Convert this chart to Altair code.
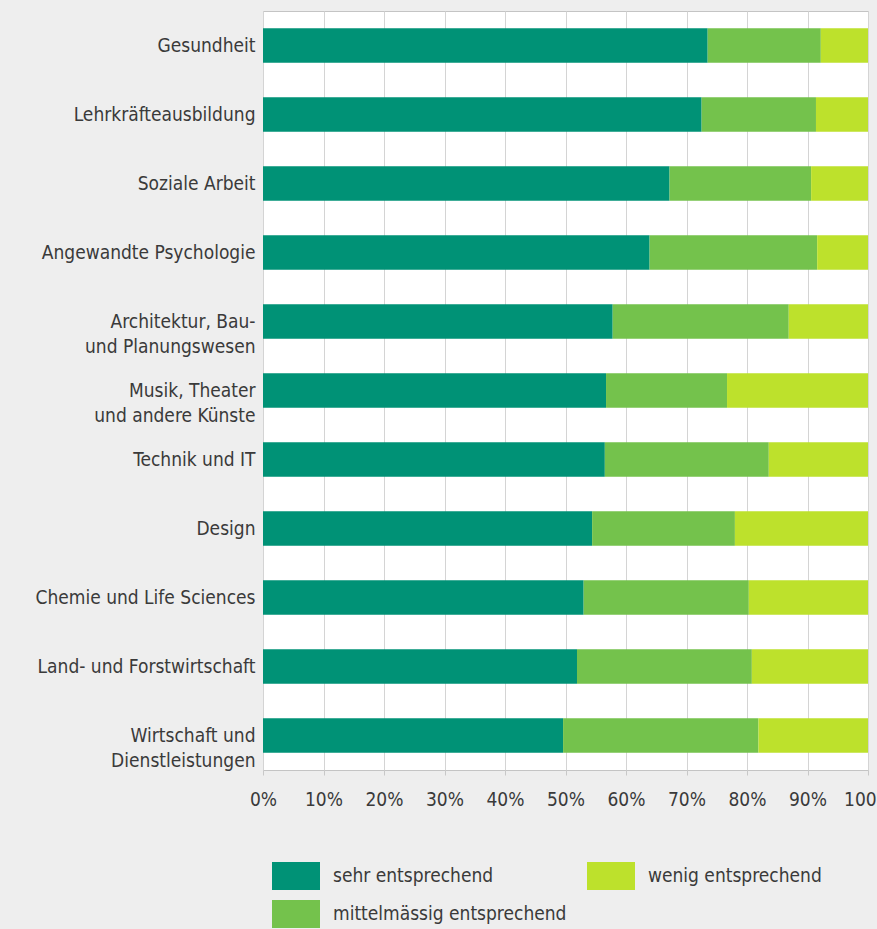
import altair as alt
import pandas as pd

categories = [
    "Gesundheit",
    "Lehrkräfteausbildung",
    "Soziale Arbeit",
    "Angewandte Psychologie",
    "Architektur, Bau-\nund Planungswesen",
    "Musik, Theater\nund andere Künste",
    "Technik und IT",
    "Design",
    "Chemie und Life Sciences",
    "Land- und Forstwirtschaft",
    "Wirtschaft und\nDienstleistungen",
]
sehr = [73.5, 72.5, 67.2, 63.9, 57.8, 56.7, 56.5, 54.4, 53.0, 51.9, 49.6]
mittel = [18.7, 18.9, 23.4, 27.7, 29.1, 20.0, 27.1, 23.6, 27.3, 28.9, 32.3]
wenig = [7.8, 8.6, 9.4, 8.4, 13.1, 23.3, 16.4, 22.0, 19.7, 19.2, 18.1]

levels = ["sehr entsprechend", "mittelmässig entsprechend", "wenig entsprechend"]
colors = ["#009276", "#74c24c", "#bde12c"]
x_ticks = [0, 10, 20, 30, 40, 50, 60, 70, 80, 90, 100]

rows = []
for i, c in enumerate(categories):
    for r, (lvl, vals) in enumerate(zip(levels, [sehr, mittel, wenig])):
        rows.append({"Fach": c, "Stufe": lvl, "Anteil": vals[i], "rank": r})
df = pd.DataFrame(rows)

FONT = "DejaVu Sans Condensed, Roboto, sans-serif"
TXT = "#3a3a3a"
FS = 19

chart = alt.Chart(df).mark_bar().encode(
    y=alt.Y("Fach:N", sort=categories, title=None,
            scale=alt.Scale(paddingInner=0.5, paddingOuter=0.25),
            axis=alt.Axis(labelExpr="split(datum.label, '\\n')", ticks=False, domain=False,
                          grid=False, labelPadding=8, labelFontSize=FS, labelFont=FONT,
                          labelColor=TXT, labelLineHeight=25, labelLimit=300)),
    x=alt.X("Anteil:Q", stack="zero", title=None,
            scale=alt.Scale(domain=[0, 100], nice=False),
            axis=alt.Axis(values=x_ticks, labelExpr="datum.value + '%'", grid=True,
                          gridColor="#d4d4d4", gridWidth=1, domain=False,
                          tickColor="#c8c8c8", tickSize=5, labelPadding=15,
                          labelOverlap=False, labelFlush=False,
                          labelFontSize=FS, labelFont=FONT, labelColor=TXT)),
    color=alt.Color("Stufe:N",
                    scale=alt.Scale(domain=levels, range=colors),
                    legend=alt.Legend(title=None, orient="none", legendX=9, legendY=841,
                                      values=levels,
                                      columns=2, symbolType="M-1,-0.58H1V0.58H-1Z",
                                      symbolSize=2304, symbolStrokeWidth=0, symbolOpacity=1,
                                      labelFontSize=FS, labelFont=FONT, labelColor=TXT,
                                      labelOffset=13, columnPadding=20, rowPadding=0,
                                      labelLimit=400)),
    order=alt.Order("rank:Q"),
).properties(
    width=605, height=759,
    autosize=alt.AutoSizeParams(type="none"),
    padding={"left": 263, "top": 11, "right": 9, "bottom": 159},
    background="#eeeeee",
).configure_view(
    fill="white", stroke="#c4c4c4", strokeWidth=1
)

chart.save("out.html", embed_options={"renderer": "svg", "actions": False})
